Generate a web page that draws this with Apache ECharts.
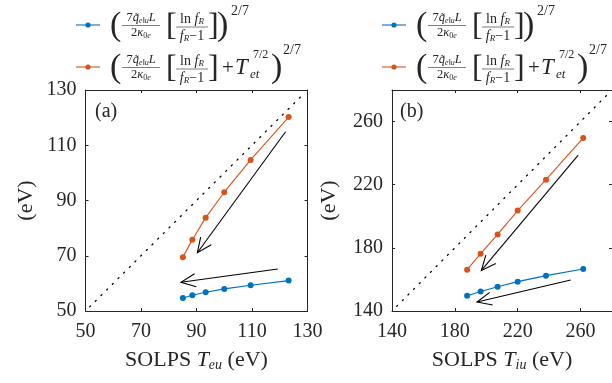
<!DOCTYPE html>
<html>
<head>
<meta charset="utf-8">
<script src="https://cdn.jsdelivr.net/npm/echarts@6/dist/echarts.min.js"></script>
<style>
html, body {margin: 0; padding: 0; background: #fff;}
#main {width: 612px; height: 383px;}
</style>
</head>
<body>
<div id="main"></div>
<script>
// panel (a): electrons, panel (b): ions
var tEu = [85.1, 88.5, 93.3, 100.0, 109.5, 123.2];
var simpleA = [54.7, 55.7, 56.8, 58.0, 59.3, 61.0];
var fullA = [69.5, 75.8, 83.8, 93.0, 104.7, 120.2];

var tIu = [187.8, 196.4, 207.2, 220.0, 238.0, 261.7];
var simpleB = [149.7, 152.4, 155.4, 158.6, 162.4, 166.6];
var fullB = [166.2, 176.3, 188.5, 203.6, 223.2, 249.6];

// x1, y1, x2, y2 (tail -> head)
var arrowsA = [[122.1, 114.9, 90.3, 71.1], [119.3, 65.2, 84.4, 60.4]];
var arrowsB = [[258.5, 238.8, 196.9, 165.7], [253.7, 159.6, 194.1, 145.7]];

// y = x guide
var diagA = [51.5, 129];
var diagB = [143, 277];

var axisA = {min: 50, max: 130, interval: 20};
var axisB = {min: 140, max: 280, interval: 40};

var BLUE = '#0072BD';
var ORANGE = '#D95319';
var INK = '#262626';
var SERIF = 'Liberation Serif';

function zip(xs, ys){
	var out = [];
	for (var i = 0; i < xs.length; i++){
		out.push([xs[i], ys[i]]);
	}
	return out;
}

function makeAxis(range, pos, grid, showLabel, name, gap){
	return {
		type: 'value',
		gridIndex: grid,
		position: pos,
		min: range.min,
		max: range.max,
		interval: range.interval,
		name: name || '',
		nameLocation: 'middle',
		nameGap: gap || 0,
		nameRotate: (pos == 'left') ? 90 : 0,
		nameTextStyle: {
			fontFamily: SERIF, fontSize: 22, color: INK,
			rich: {
				r: {fontFamily: SERIF, fontSize: 22, color: INK},
				i: {fontFamily: SERIF, fontSize: 22, fontStyle: 'italic', color: INK},
				s: {fontFamily: SERIF, fontSize: 14, fontStyle: 'italic', color: INK, verticalAlign: 'bottom', padding: [9, 0, 0, 0]}
			}
		},
		axisLine: {show: true, onZero: false, lineStyle: {color: INK, width: 1}},
		axisTick: {show: true, inside: true, length: 3, lineStyle: {color: INK, width: 1}},
		axisLabel: {
			show: showLabel,
			showMaxLabel: (range.max - range.min) % range.interval == 0,
			fontFamily: SERIF, fontSize: 20, color: INK,
			margin: (pos == 'bottom') ? 11 : 9
		},
		splitLine: {show: false}
	};
}

function arrowRender(params, api){
	var p1 = api.coord([api.value(0), api.value(1)]);
	var p2 = api.coord([api.value(2), api.value(3)]);
	var ang = Math.atan2(p1[1] - p2[1], p1[0] - p2[0]);
	var len = 16, spread = 0.42;
	var a1 = [p2[0] + len * Math.cos(ang + spread), p2[1] + len * Math.sin(ang + spread)];
	var a2 = [p2[0] + len * Math.cos(ang - spread), p2[1] + len * Math.sin(ang - spread)];
	return {
		type: 'group',
		children: [
			{type: 'polyline', shape: {points: [p1, p2]}, style: {stroke: '#000', lineWidth: 1.1, fill: null}},
			{type: 'polyline', shape: {points: [a1, p2, a2]}, style: {stroke: '#000', lineWidth: 1.1, fill: null}}
		]
	};
}

function lineSeries(name, xs, ys, color, xi, yi){
	return {
		name: name,
		type: 'line',
		xAxisIndex: xi,
		yAxisIndex: yi,
		data: zip(xs, ys),
		symbol: 'circle',
		symbolSize: 6,
		itemStyle: {color: color},
		lineStyle: {color: color, width: 1.1},
		animation: false
	};
}

function diagSeries(d, xi, yi){
	return {
		type: 'line',
		xAxisIndex: xi,
		yAxisIndex: yi,
		data: [[d[0], d[0]], [d[1], d[1]]],
		symbol: 'none',
		lineStyle: {color: '#000', width: 1.3, type: [1.2, 6.8], cap: 'round'},
		silent: true,
		animation: false
	};
}

function arrowSeries(rows, xi, yi){
	return {
		type: 'custom',
		xAxisIndex: xi,
		yAxisIndex: yi,
		data: rows,
		encode: {x: [0, 2], y: [1, 3]},
		renderItem: arrowRender,
		clip: false,
		silent: true,
		animation: false
	};
}

// legend built as text pieces: fraction layout of the two temperature formulas
function txt(x, y, text, size, opts){
	opts = opts || {};
	return {
		type: 'text', x: x, y: y, silent: true,
		style: {
			text: text,
			fontFamily: SERIF,
			fontSize: size,
			fontStyle: opts.italic ? 'italic' : 'normal',
			fill: INK,
			align: opts.align || 'left',
			verticalAlign: 'middle',
			rich: opts.rich
		}
	};
}

var fracRich = {
	n: {fontFamily: SERIF, fontSize: 12.5, color: INK},
	i: {fontFamily: SERIF, fontSize: 12.5, fontStyle: 'italic', color: INK},
	s: {fontFamily: SERIF, fontSize: 8, fontStyle: 'italic', color: INK, verticalAlign: 'bottom', padding: [5, 0, 0, 0]},
	sn: {fontFamily: SERIF, fontSize: 8, color: INK, verticalAlign: 'bottom', padding: [5, 0, 0, 0]}
};
var fracRich2 = {
	n: {fontFamily: SERIF, fontSize: 14, color: INK},
	i: {fontFamily: SERIF, fontSize: 14, fontStyle: 'italic', color: INK},
	s: {fontFamily: SERIF, fontSize: 9, fontStyle: 'italic', color: INK, verticalAlign: 'bottom', padding: [6, 0, 0, 0]}
};

function legendEntry(x0, cy, color, withT){
	var items = [];
	items.push({type: 'line', shape: {x1: x0, y1: cy, x2: x0 + 24, y2: cy}, style: {stroke: color, lineWidth: 1.1}, silent: true});
	items.push({type: 'circle', shape: {cx: x0 + 12, cy: cy, r: 2.6}, style: {fill: color}, silent: true});
	var bx = x0 + 34;
	items.push(txt(bx, cy + 1, '(', 34));
	// first fraction
	items.push(txt(bx + 31, cy - 7, '{n|7}{i|q̃}{s|e‖u}{i|L}', 12, {align: 'center', rich: fracRich}));
	items.push({type: 'line', shape: {x1: bx + 12, y1: cy + 0.5, x2: bx + 50, y2: cy + 0.5}, style: {stroke: INK, lineWidth: 0.6}, silent: true});
	items.push(txt(bx + 31, cy + 8, '{n|2}{i|κ}{sn|0}{s|e}', 12, {align: 'center', rich: fracRich}));
	// bracket fraction
	items.push(txt(bx + 56, cy + 2, '[', 32));
	items.push(txt(bx + 82, cy - 6, '{n|ln }{i|f}{s|R}', 14, {align: 'center', rich: fracRich2}));
	items.push({type: 'line', shape: {x1: bx + 66, y1: cy + 2, x2: bx + 98, y2: cy + 2}, style: {stroke: INK, lineWidth: 0.6}, silent: true});
	items.push(txt(bx + 82, cy + 11, '{i|f}{s|R}{n|−1}', 14, {align: 'center', rich: fracRich2}));
	items.push(txt(bx + 98, cy + 2, ']', 32));
	if (withT){
		items.push(txt(bx + 112, cy + 1, '+', 21));
		items.push(txt(bx + 125, cy + 1, 'T', 23, {italic: true}));
		items.push(txt(bx + 143, cy - 12, '7/2', 12));
		items.push(txt(bx + 140, cy + 8, 'et', 13, {italic: true}));
		items.push(txt(bx + 161, cy + 1, ')', 34));
		items.push(txt(bx + 173, cy - 17, '2/7', 14));
	}
	else {
		items.push(txt(bx + 107, cy + 1, ')', 34));
		items.push(txt(bx + 121, cy - 14, '2/7', 14));
	}
	return items;
}

var graphics = [];
var legendX = [76, 382];
for (var k = 0; k < 2; k++){
	graphics = graphics.concat(legendEntry(legendX[k], 25, BLUE, false));
	graphics = graphics.concat(legendEntry(legendX[k], 67, ORANGE, true));
}
graphics.push(txt(95, 112, '(a)', 20));
graphics.push(txt(400, 112, '(b)', 20));

var chart = echarts.init(document.getElementById('main'), null, {renderer: 'canvas'});
var option = {
	backgroundColor: '#fff',
	animation: false,
	grid: [
		{left: 85.5, top: 90, width: 222, height: 221},
		{left: 392, top: 90, width: 222, height: 221}
	],
	xAxis: [
		makeAxis(axisA, 'bottom', 0, true, '{r|SOLPS }{i|T}{s|eu}{r| (eV)}', 38),
		makeAxis(axisA, 'top', 0, false),
		makeAxis(axisB, 'bottom', 1, true, '{r|SOLPS }{i|T}{s|iu}{r| (eV)}', 38),
		makeAxis(axisB, 'top', 1, false)
	],
	yAxis: [
		makeAxis(axisA, 'left', 0, true, '(eV)', 48),
		makeAxis(axisA, 'right', 0, false),
		makeAxis(axisB, 'left', 1, true, '(eV)', 52),
		makeAxis(axisB, 'right', 1, false)
	],
	series: [
		diagSeries(diagA, 0, 0),
		lineSeries('simple', tEu, simpleA, BLUE, 0, 0),
		lineSeries('full', tEu, fullA, ORANGE, 0, 0),
		arrowSeries(arrowsA, 0, 0),
		diagSeries(diagB, 2, 2),
		lineSeries('simple', tIu, simpleB, BLUE, 2, 2),
		lineSeries('full', tIu, fullB, ORANGE, 2, 2),
		arrowSeries(arrowsB, 2, 2)
	],
	graphic: graphics
};
chart.setOption(option);
</script>
</body>
</html>
